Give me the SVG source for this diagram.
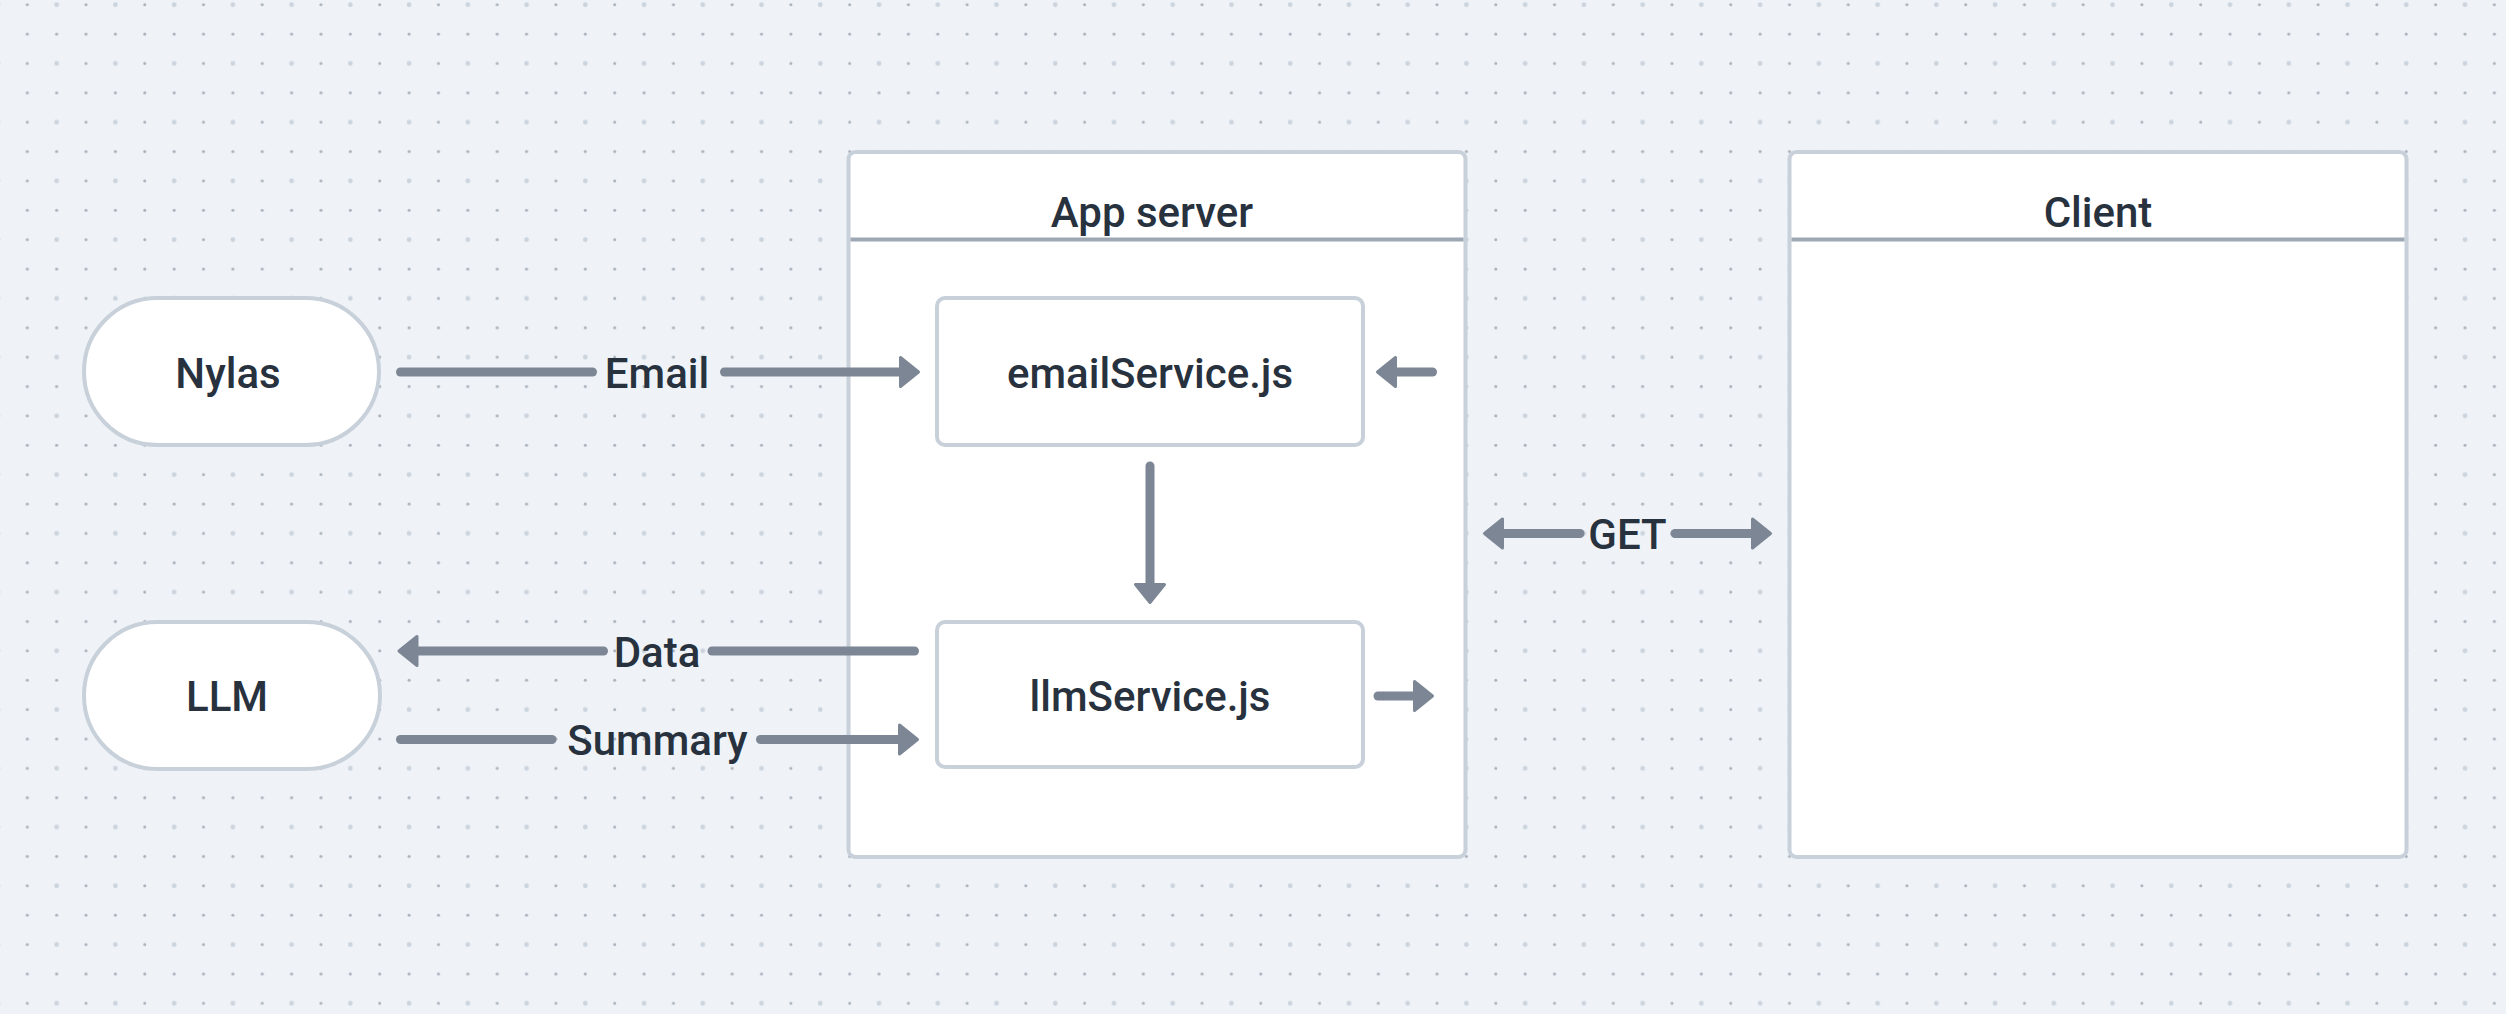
<svg xmlns="http://www.w3.org/2000/svg" width="2506" height="1014" viewBox="0 0 2506 1014">
  <style>
    .box { fill: #ffffff; stroke: #c8d0da; stroke-width: 4; }
    .divider { stroke: #9ea8b4; stroke-width: 4; }
    .lbl { font-family: Roboto, "Liberation Sans", sans-serif; font-size: 42px; font-weight: 500; fill: #28323e; text-anchor: middle; }
    .conn { fill: none; stroke: #7c8695; stroke-width: 9; stroke-linecap: round; }
  </style>
  <defs>
    <pattern id="dots" patternUnits="userSpaceOnUse" x="12.6" y="-9.98" width="58.74" height="58.74">
      <circle cx="14.685" cy="14.685" r="1.5" fill="#a9b1bc"/>
      <circle cx="44.055" cy="14.685" r="2.4" fill="#ccd4de"/>
      <circle cx="14.685" cy="44.055" r="1.5" fill="#a9b1bc"/>
      <circle cx="44.055" cy="44.055" r="1.5" fill="#a9b1bc"/>
    </pattern>
    <marker id="head" markerUnits="userSpaceOnUse" viewBox="-2 -18 26 36" refX="0" refY="0" markerWidth="26" markerHeight="36" orient="auto">
      <polygon points="1.5,-14.5 19.5,0 1.5,14.5" fill="#7c8695" stroke="#7c8695" stroke-width="3" stroke-linejoin="round"/>
    </marker>
  </defs>

  <rect x="0" y="0" width="2506" height="1014" fill="#eff3f7"/>
  <rect x="0" y="0" width="2506" height="1014" fill="url(#dots)"/>

  <g id="app-server">
    <rect class="box" x="848.5" y="152" width="617" height="705" rx="7"/>
    <line class="divider" x1="850.5" y1="239.5" x2="1463.5" y2="239.5"/>
    <text class="lbl" x="1152" y="227">App server</text>
  </g>

  <g id="client">
    <rect class="box" x="1789.5" y="152" width="617" height="705" rx="7"/>
    <line class="divider" x1="1791.5" y1="239.5" x2="2404.5" y2="239.5"/>
    <text class="lbl" x="2098" y="227">Client</text>
  </g>

  <g id="nylas">
    <rect class="box" x="84" y="298" width="295" height="147" rx="73.5"/>
    <text class="lbl" x="228" y="388">Nylas</text>
  </g>

  <g id="llm">
    <rect class="box" x="84" y="622" width="296" height="147" rx="73.5"/>
    <text class="lbl" x="227" y="711">LLM</text>
  </g>

  <g id="email-service">
    <rect class="box" x="937" y="298" width="426" height="147" rx="8"/>
    <text class="lbl" x="1150" y="388">emailService.js</text>
  </g>

  <g id="llm-service">
    <rect class="box" x="937" y="622" width="426" height="145" rx="8"/>
    <text class="lbl" x="1150" y="711">llmService.js</text>
  </g>

  <g id="connectors">
    <path class="conn" d="M400.5,372 H592.5"/>
    <path class="conn" d="M724.5,372 H899" marker-end="url(#head)"/>
    <text class="lbl" x="657" y="388">Email</text>

    <path class="conn" d="M1432.5,372 H1397" marker-end="url(#head)"/>

    <path class="conn" d="M1150,466 V583" marker-end="url(#head)"/>

    <path class="conn" d="M914.5,651 H712"/>
    <path class="conn" d="M603.5,651 H418.5" marker-end="url(#head)"/>
    <text class="lbl" x="657" y="667">Data</text>

    <path class="conn" d="M400.5,739.5 H552"/>
    <path class="conn" d="M760.5,739.5 H898" marker-end="url(#head)"/>
    <text class="lbl" x="657.5" y="755">Summary</text>

    <path class="conn" d="M1378,696 H1413" marker-end="url(#head)"/>

    <path class="conn" d="M1580,533.5 H1504" marker-end="url(#head)"/>
    <path class="conn" d="M1675,533.5 H1751" marker-end="url(#head)"/>
    <text class="lbl" x="1627.5" y="549">GET</text>
  </g>
</svg>
